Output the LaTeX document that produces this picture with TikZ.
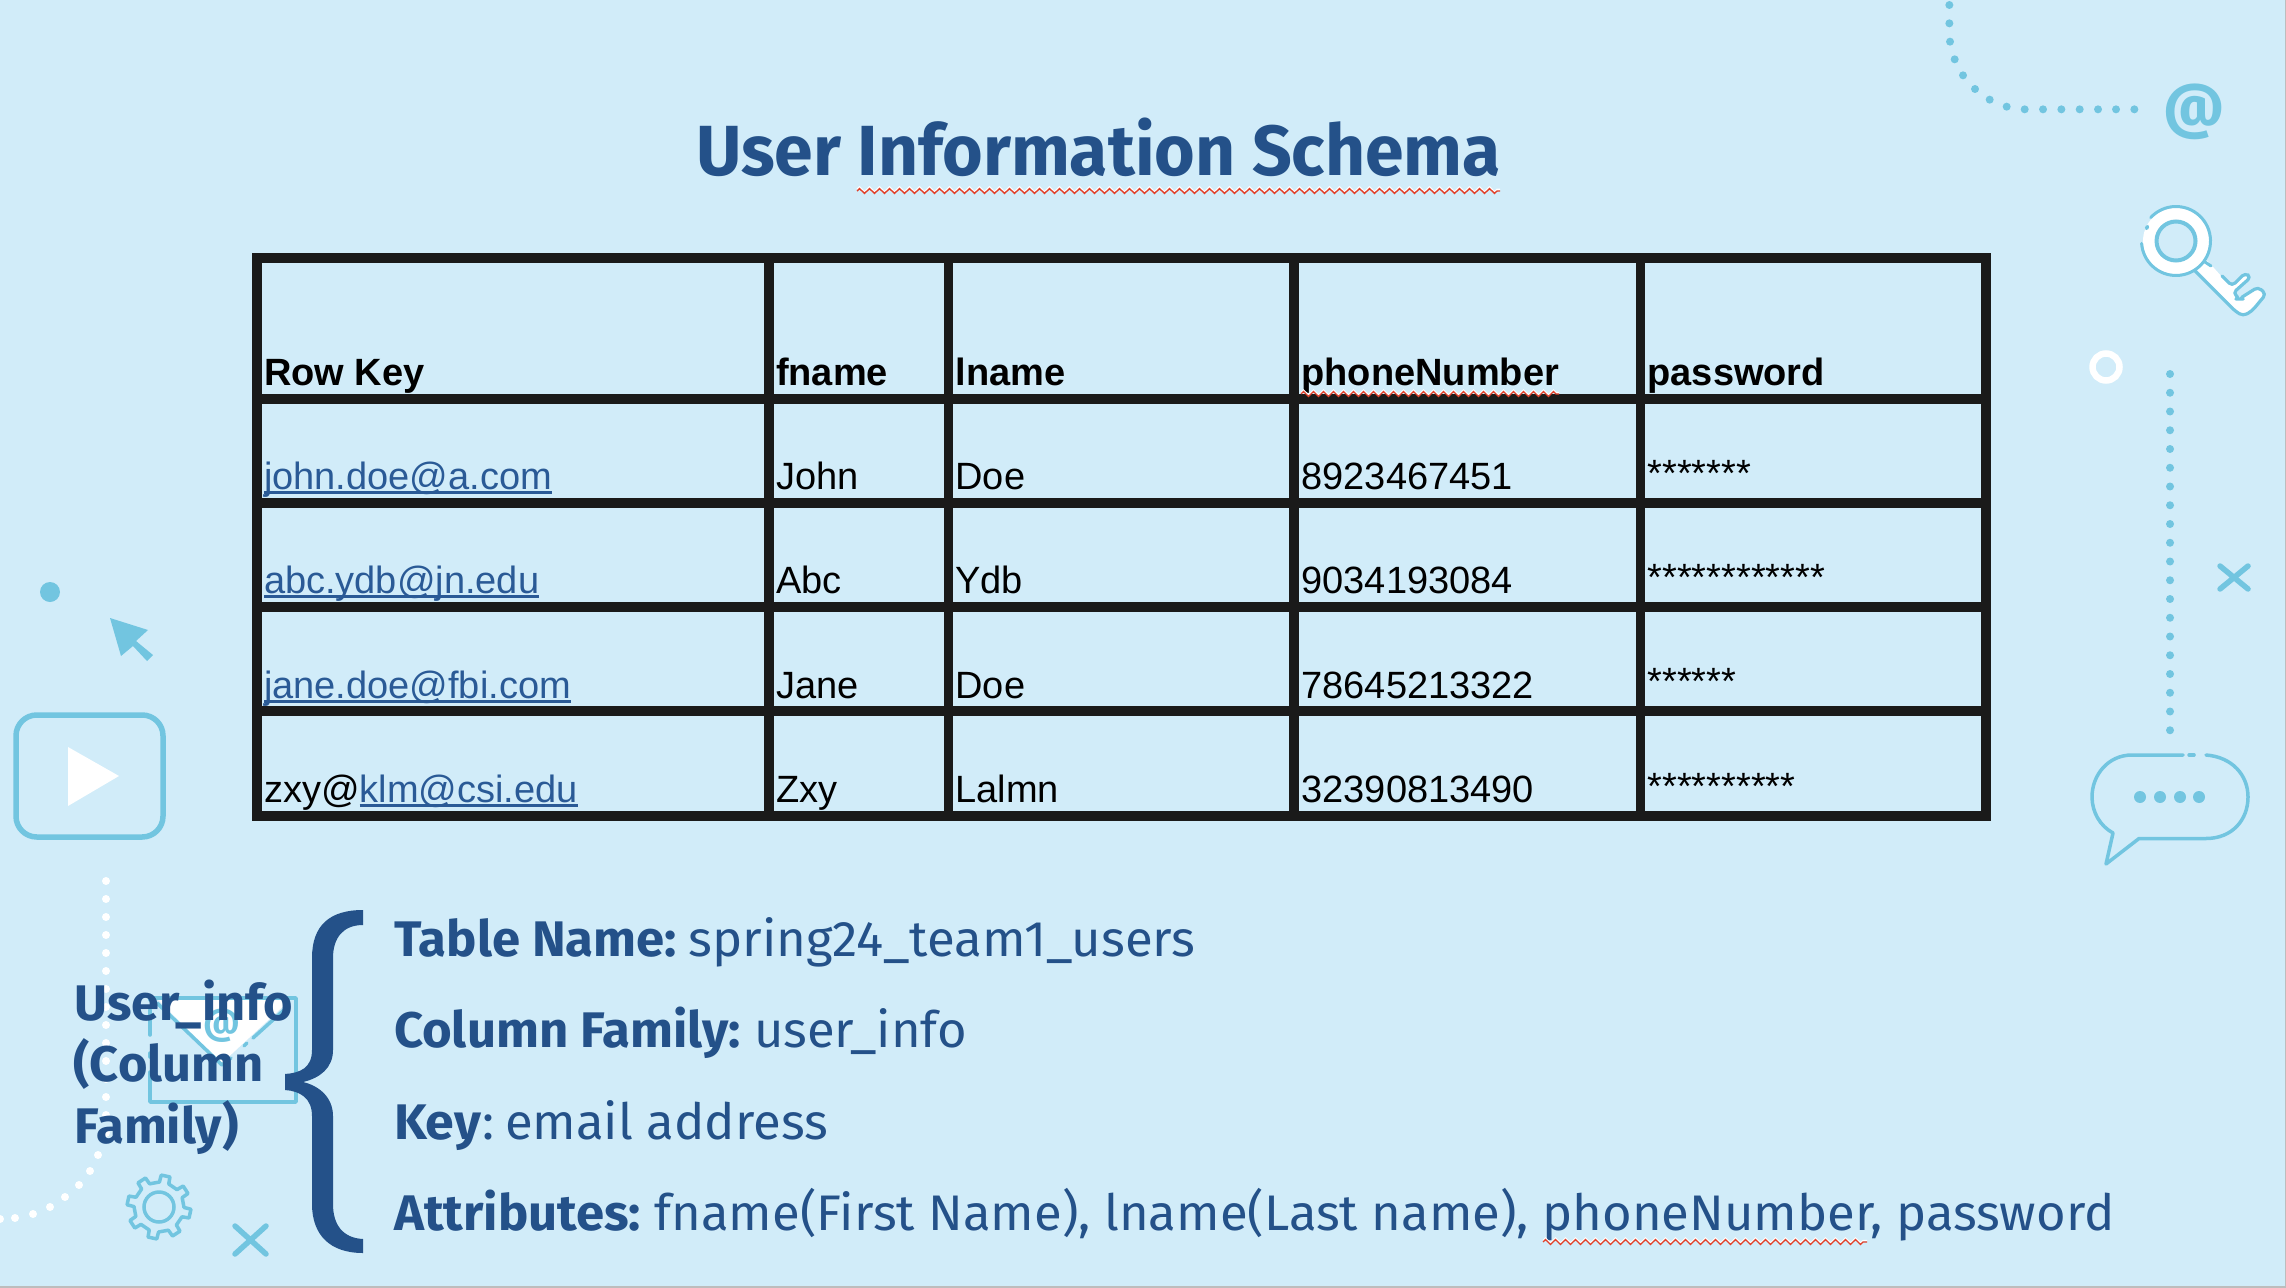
\documentclass[tikz,border=0pt]{standalone}
\usepackage{fontspec}
\usepackage{graphicx}
\setmainfont{Fira Sans}
\newfontfamily\tablefont{Liberation Sans}
\usetikzlibrary{decorations.pathmorphing}
\definecolor{bgc}{HTML}{D1ECF9}
\definecolor{cyanc}{HTML}{72C5E0}
\definecolor{bluec}{HTML}{245189}
\definecolor{linkc}{HTML}{2A5A96}
\definecolor{gridc}{HTML}{1A1A1A}
\definecolor{redc}{HTML}{E0402A}
\definecolor{edgec}{HTML}{BDBDBD}
\newcommand\pxfont[1]{\fontsize{\fpeval{#1*0.7227}pt}{\fpeval{#1*0.7227*1.2}pt}\selectfont}
\newcommand\fitx[2]{\setbox0=\hbox{#2}\pgfmathsetmacro\fitr{#1*0.7227/\the\wd0}\scalebox{\fitr}[1]{\box0}}
\newcommand\ulink[1]{\setbox2=\hbox{#1}\rlap{\rule[-4.6\pxu]{\wd2}{2.6\pxu}}\box2}
\newdimen\pxu \pxu=0.7227pt
\tikzset{
  x=0.7227pt, y=-0.7227pt,
  lw/.style={line width=#1*0.7227pt},
  label text/.style={anchor=base west,inner sep=0pt,outer sep=0pt,text=bluec},
  head cell/.style={anchor=base west,inner sep=0pt,outer sep=0pt,text=black,font=\tablefont\bfseries\pxfont{38}},
  body cell/.style={anchor=base west,inner sep=0pt,outer sep=0pt,text=black,font=\tablefont\pxfont{38}},
  grid line/.style={draw=gridc,lw=9.5,line cap=rect},
  cyan line/.style={draw=cyanc,lw=3.5,line cap=round,line join=round},
  cross/.style={draw=cyanc,lw=5.5,line cap=round},
  wave/.style={decorate,decoration={zigzag,segment length=10*0.7227pt,amplitude=2.4*0.7227pt}},
}
\begin{document}
\begin{tikzpicture}
\useasboundingbox (0,0) rectangle (2286,1288);
\fill[bgc] (0,0) rectangle (2286,1288);
\fill[edgec] (0,1286) rectangle (2286,1288);
\fill[edgec] (2285,0) rectangle (2286,1288);

% top right dotted curve
\foreach \x/\y in {148/15,148/70,150/125,164/178,189/226,225/267,269/299,320/320,374/328,429/328,484/328,539/328,594/328,648/328,703/328}
  \fill[cyanc] ({1900+\x/3},{\y/3}) circle (4);
\node[inner sep=0pt,text=cyanc,font=\bfseries\pxfont{60}] (atsign) at (2194,112) {@};

% key
\fill[white,rounded corners=3] (2193,266) -- (2240,314) -- (2244,317) -- (2266,294) -- (2258,287) -- (2240,299) -- (2233,293) -- (2251,276) -- (2245,272) -- (2230,286) -- (2205,258) -- cycle;
\fill[white] (2176,241) circle (33);
\begin{scope}[shift={(2176,241)}]
  \draw[cyan line,lw=3] (223:34.5) arc (223:536:34.5);
  \draw[cyan line,lw=3.5] (203:32) arc (203:207:32);
  \draw[cyanc,lw=4,fill=bgc] (0,0) circle (19.5);
\end{scope}
\draw[cyan line,lw=3.2,rounded corners=3] (2195,271) -- (2235,311) -- (2243,316) -- (2252,311) -- (2266,294) -- (2258,287) -- (2239,299) -- (2240,299) -- (2233,293) -- (2251,277) -- (2245,273) -- (2232,286) -- (2222,276);
\draw[cyan line,lw=3] (2205,262) -- (2211,266);

% white ring
\draw[white,lw=6.5] (2106,367) circle (13.5);

% right column of dots
\foreach \i in {0,...,19} \fill[cyanc] (2170,{374+\i*18.75}) circle (4);
\draw[cross] (2220,566) -- (2248,589) (2248,566) -- (2220,589);

% speech bubble
\draw[cyan line] (2183,755) -- (2132,755) .. controls (2108,755) and (2092,775) .. (2092,797) .. controls (2092,812) and (2100,826) .. (2113,833) -- (2106,864) -- (2139,838.5) -- (2206,838.5) .. controls (2232,838.5) and (2248,820) .. (2248,797) .. controls (2248,775) and (2232,757) .. (2206,755);
\draw[cyan line] (2189,755) -- (2194,755);
\foreach \x in {2140,2160,2180,2199} \fill[cyanc] (\x,797) circle (6);

% left ornaments
\fill[cyanc] (50,592) circle (10);
\fill[cyanc] (110,618) -- (148,630) -- (136,641) -- (153,655) -- (147,661) -- (133,646) -- (121,656) -- cycle;
\draw[cyanc,lw=5.5,rounded corners=15] (16,715) rectangle (163,837);
\fill[white] (68,747) -- (119,776) -- (68,806) -- cycle;
\foreach \y in {881,899,917,935,953,971,989,1007,1025,1043,1061,1079,1097,1115,1133}
  \fill[white] (106,\y) circle (4);
\foreach \x/\y in {98/1155,90/1171,79/1185,65/1197,50/1207,33/1214,15/1218,0/1219}
  \fill[white] (\x,\y) circle (4);

% envelope
\fill[white] (158,1000) -- (290,1000) -- (222,1063) -- cycle;
\draw[cyan line] (150,1072) -- (150,1102) -- (296,1102) -- (296,998) -- (150,998) -- (150,1000);
\draw[cyan line] (150,1010) -- (150,1035);
\draw[cyan line] (150,1053) -- (150,1057);
\draw[cyan line] (157,1003) -- (222,1065) -- (231,1058);
\draw[cyan line] (244,1046) -- (247,1043);
\draw[cyan line] (253,1038) -- (284,1010);
\node[inner sep=0pt,text=cyanc,font=\bfseries\pxfont{36}] (envat) at (222,1026) {@};

% gear
\begin{scope}[shift={(159,1207)}]
  \draw[cyan line,lw=3.5] (0:25)
    \foreach \a in {0,45,...,315}{
      -- ({\a+12-11}:25) -- ({\a+12-8}:32) -- ({\a+12+8}:32) -- ({\a+12+11}:25) -- ({\a+12+34}:25)
    } -- cycle;
  \draw[cyanc,lw=3.5] (0,0) circle (15);
\end{scope}
\draw[cross] (235,1226) -- (266,1254) (266,1226) -- (235,1254);

% title
\node[label text,font=\bfseries\pxfont{71}] (title) at (696,175.5) {\fitx{805}{User Information Schema}};
\draw[white,lw=1.6,wave] (857,189.5) -- (1500,189.5);
\draw[redc,lw=1.4,wave] (857,191) -- (1500,191);

% table
\foreach \y in {258,399,503,607,711,816} \draw[grid line] (257,\y) -- (1986,\y);
\foreach \x in {257,769,948.5,1294,1640.5,1986} \draw[grid line] (\x,258) -- (\x,816);

\node[head cell] (h1) at (264,385) {Row Key};
\node[head cell] (h2) at (776,385) {fname};
\node[head cell] (h3) at (955.5,385) {lname};
\node[head cell] (h4) at (1301.5,385) {phoneNumber};
\node[head cell] (h5) at (1647.5,385) {password};
\draw[white,lw=1.4,wave] (1301,392.5) -- (1559,392.5);
\draw[redc,lw=1.3,wave] (1301,394) -- (1559,394);

\node[body cell,text=linkc] (a1) at (264,489) {\ulink{john.doe@a.com}};
\node[body cell] (a2) at (776,489) {John};
\node[body cell] (a3) at (955.5,489) {Doe};
\node[body cell] (a4) at (1301.5,489) {8923467451};
\node[body cell] (a5) at (1647.5,486) {*******};

\node[body cell,text=linkc] (b1) at (264,593) {\ulink{abc.ydb@jn.edu}};
\node[body cell] (b2) at (776,593) {Abc};
\node[body cell] (b3) at (955.5,593) {Ydb};
\node[body cell] (b4) at (1301.5,593) {9034193084};
\node[body cell] (b5) at (1647.5,590) {************};

\node[body cell,text=linkc] (c1) at (264,698) {\ulink{jane.doe@fbi.com}};
\node[body cell] (c2) at (776,698) {Jane};
\node[body cell] (c3) at (955.5,698) {Doe};
\node[body cell] (c4) at (1301.5,698) {78645213322};
\node[body cell] (c5) at (1647.5,694.5) {******};

\node[body cell] (d1) at (264,802) {zxy@\textcolor{linkc}{\ulink{klm@csi.edu}}};
\node[body cell] (d2) at (776,802) {Zxy};
\node[body cell] (d3) at (955.5,802) {Lalmn};
\node[body cell] (d4) at (1301.5,802) {32390813490};
\node[body cell] (d5) at (1647.5,799) {**********};

% left label
\node[label text,font=\bfseries\pxfont{50}] (u1) at (74.5,1020) {\fitx{218}{User\_info}};
\node[label text,font=\bfseries\pxfont{50}] (u2) at (73.5,1081) {\fitx{190}{(Column}};
\node[label text,font=\bfseries\pxfont{50}] (u3) at (74.5,1143) {\fitx{164}{Family)}};

% brace
\fill[bluec] (363,910) .. controls (330,910) and (312,925) .. (312,958)
  -- (312,1050) .. controls (312,1068) and (300,1073) .. (285,1074)
  -- (285,1090) .. controls (300,1091) and (312,1098) .. (312,1116)
  -- (312,1204) .. controls (312,1235) and (330,1253) .. (363,1253)
  -- (363,1239) .. controls (343,1238) and (333,1225) .. (333,1204)
  -- (333,1116) .. controls (333,1098) and (320,1086) .. (303,1082)
  .. controls (320,1078) and (333,1068) .. (333,1050)
  -- (333,958) .. controls (333,938) and (343,925) .. (363,925) -- cycle;

% description
\node[label text,font=\bfseries\pxfont{50}] (l1a) at (394,956) {\fitx{283}{Table Name:}};
\node[label text,font=\pxfont{50}] (l1b) at (688.5,956) {\fitx{507}{spring24\_team1\_users}};
\node[label text,font=\bfseries\pxfont{50}] (l2a) at (394,1047) {\fitx{347}{Column Family:}};
\node[label text,font=\pxfont{50}] (l2b) at (754,1047) {\fitx{213}{user\_info}};
\node[label text,font=\bfseries\pxfont{50}] (l3a) at (394,1139) {\fitx{87}{Key}};
\node[label text,font=\pxfont{50}] (l3c) at (482,1139) {:};
\node[label text,font=\pxfont{50}] (l3b) at (505,1139) {\fitx{323}{email address}};
\node[label text,font=\bfseries\pxfont{50}] (l4a) at (394,1230) {\fitx{247}{Attributes:}};
\node[label text,font=\pxfont{50}] (l4b) at (654.5,1230) {\fitx{1460}{fname(First Name), lname(Last name), phoneNumber, password}};
\draw[white,lw=1.4,wave] (1543,1240.5) -- (1867,1240.5);
\draw[redc,lw=1.3,wave] (1543,1242) -- (1867,1242);
\end{tikzpicture}
\end{document}
